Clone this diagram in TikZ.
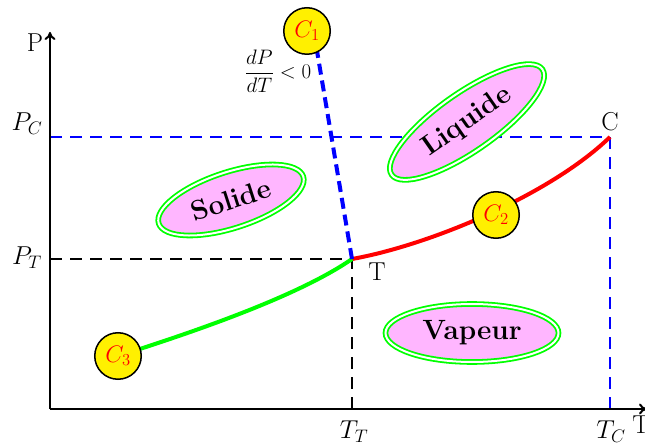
\RequirePackage{fix-cm}
\documentclass[tikz,border=0pt]{standalone}
\usepackage{amsmath}
\usepackage{fontspec}
\usetikzlibrary{shapes.geometric,arrows.meta}
\definecolor{pinkfill}{RGB}{255,182,255}
\definecolor{ringgreen}{RGB}{0,255,0}
\definecolor{ptyellow}{RGB}{255,240,0}
\definecolor{pureblue}{RGB}{0,0,255}
\definecolor{purered}{RGB}{255,0,0}
\begin{document}
\begin{tikzpicture}[x=1bp,y=-1bp,
  lbl/.style={font=\fontsize{26}{30}\selectfont, inner sep=0pt},
  region/.style={ellipse, draw=ringgreen, double=white, double distance=2bp, line width=1.8bp,
    fill=pinkfill, inner sep=0pt, font=\fontsize{28}{32}\selectfont\bfseries},
  cpt/.style={circle, draw=black, line width=1.5bp, fill=ptyellow, minimum size=46.5bp,
    inner sep=0pt, text=purered, font=\fontsize{24}{28}\selectfont},
  dashaxis/.style={line width=2.5bp, dash pattern=on 12bp off 8bp},
  axis/.style={line width=2bp, -{Computer Modern Rightarrow[length=8bp,width=11bp]}},
  curve/.style={line width=4bp}
]
\useasboundingbox (0,0) rectangle (645,448);
% coordinates
\coordinate (O) at (50,409);
\coordinate (yend) at (50,32);
\coordinate (xend) at (647,409);
\coordinate (Tp) at (352,259);
\coordinate (Cp) at (610,137);
\coordinate (PC) at (50,137);
\coordinate (PT) at (50,259);
\coordinate (TT) at (352,409);
\coordinate (TC) at (610,409);
\coordinate (c1end) at (316,45);
\coordinate (C3c) at (118,356);
% dashed guides
\draw[pureblue, dashaxis] (PC) -- (Cp) -- (TC);
\draw[black, dashaxis] (PT) -- (Tp) -- (TT);
% axes
\draw[axis] (O) -- (yend);
\draw[axis] (O) -- (xend);
% labels
\node[lbl] (lP) at (35,43) {P};
\node[lbl] (lT) at (641,425) {T};
\node[lbl] (lPC) at (27,124) {$P_C$};
\node[lbl] (lPT) at (27,258) {$P_T$};
\node[lbl] (lTT) at (354,432) {$T_T$};
\node[lbl] (lTC) at (611,432) {$T_C$};
\node[lbl] (lTpt) at (377,272) {T};
\node[lbl] (lCpt) at (610,122) {C};
\node[inner sep=0pt, font=\fontsize{21}{25}\selectfont] (frac) at (278,71) {$\dfrac{dP}{dT}<0$};
% curves
\draw[purered, curve] (Tp) .. controls (430,245) and (550,195) .. (Cp);
\draw[ringgreen, curve] (Tp) .. controls (300,295) and (200,330) .. (C3c);
\draw[pureblue, curve, dash pattern=on 11bp off 6bp] (Tp) -- (c1end);
% circles
\node[cpt] (C1) at (307,31) {$C_1$};
\node[cpt] (C2) at (496,215) {$C_2$};
\node[cpt] (C3) at (C3c) {$C_3$};
% regions
\node[region, rotate=35, minimum width=184bp, minimum height=58bp] (liq) at (467,122) {Liquide};
\node[region, rotate=18, minimum width=152bp, minimum height=56bp] (sol) at (231,200) {Solide};
\node[region, minimum width=173bp, minimum height=58bp] (vap) at (472,333) {Vapeur};
\end{tikzpicture}
\end{document}
